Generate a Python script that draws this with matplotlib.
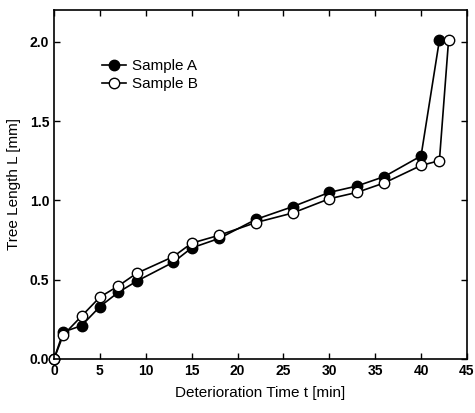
import matplotlib.pyplot as plt

plt.rcParams['font.family'] = ['Liberation Sans', 'DejaVu Sans']

# data
t_a = [0, 1, 3, 5, 7, 9, 13, 15, 18, 22, 26, 30, 33, 36, 40, 42]
len_a = [0.0, 0.17, 0.21, 0.33, 0.42, 0.49, 0.61, 0.70, 0.76, 0.88, 0.96, 1.05, 1.09, 1.15, 1.28, 2.01]
t_b = [0, 1, 3, 5, 7, 9, 13, 15, 18, 22, 26, 30, 33, 36, 40, 42, 43]
len_b = [0.0, 0.15, 0.27, 0.39, 0.46, 0.54, 0.645, 0.73, 0.78, 0.86, 0.92, 1.01, 1.05, 1.11, 1.22, 1.25, 2.01]

xticks = [0, 5, 10, 15, 20, 25, 30, 35, 40, 45]
yticks = [0.0, 0.5, 1.0, 1.5, 2.0]

fig = plt.figure(figsize=(4.75, 4.13), dpi=100)
ax = fig.add_axes([0.1137, 0.1308, 0.8693, 0.845])

ax.plot(t_a, len_a, '-o', color='black', mfc='black', mec='black',
        ms=7.5, lw=1.2, label='Sample A', clip_on=False)
ax.plot(t_b, len_b, '-o', color='black', mfc='white', mec='black',
        ms=7.5, lw=1.2, label='Sample B', clip_on=False)

ax.set_xlim(0, 45)
ax.set_ylim(0, 2.2)
ax.set_xticks(xticks)
ax.set_yticks(yticks)
ax.set_yticklabels(['%.1f' % v for v in yticks])
ax.tick_params(direction='in', top=True, right=True, length=4, width=1,
               labelsize=10)
for lab in ax.get_xticklabels() + ax.get_yticklabels():
    lab.set_fontweight('bold')
for s in ax.spines.values():
    s.set_linewidth(1.2)

ax.set_xlabel('Deterioration Time t [min]', fontsize=11, labelpad=6)
ax.set_ylabel('Tree Length L [mm]', fontsize=11, labelpad=6)

ax.legend(loc='upper left', bbox_to_anchor=(0.09, 0.89), frameon=False,
          fontsize=11, handlelength=1.6, handletextpad=0.4, labelspacing=0.25,
          borderpad=0.2)

fig.savefig('out.png', dpi=100)
